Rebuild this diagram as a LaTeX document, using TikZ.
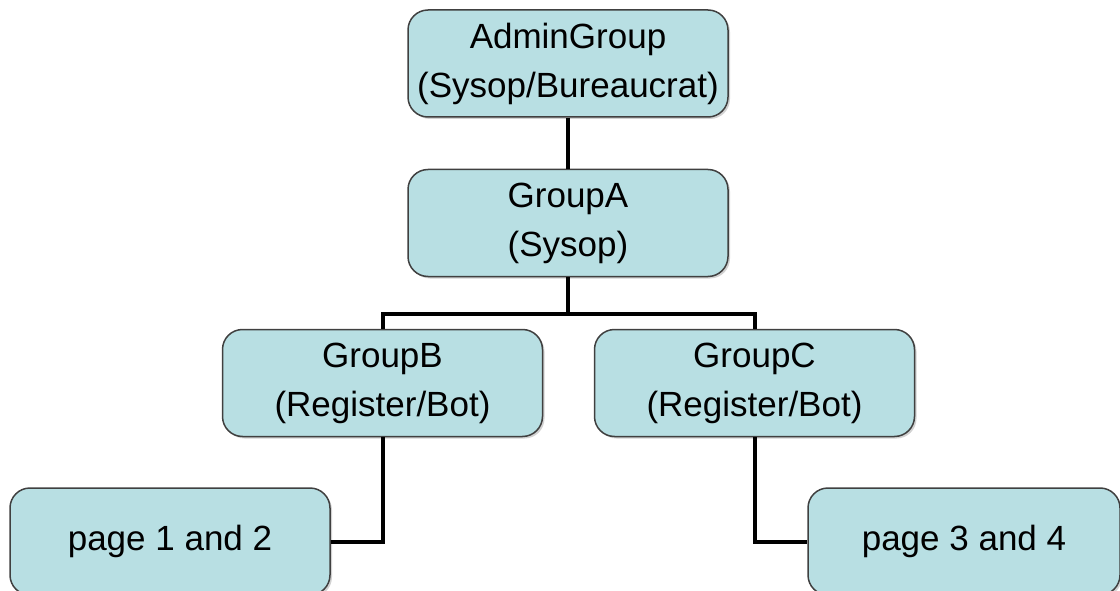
\documentclass[tikz,border=0pt]{standalone}
\usepackage{fontspec}
\setmainfont{Liberation Sans}
\usetikzlibrary{shadows}

\begin{document}
\begin{tikzpicture}[x=1pt,y=-1pt,line width=4pt]
\tikzstyle{grp}=[rectangle,rounded corners=20pt,draw=black!75,line width=1.5pt,fill={rgb,255:red,184;green,223;blue,227},minimum width=320pt,minimum height=107pt,align=center,font=\fontsize{35}{49}\selectfont,drop shadow={shadow xshift=2pt,shadow yshift=-2pt,fill=black!35}]
\useasboundingbox (0,0) rectangle (1120,591);
\node[grp](admin) at (568,63.5) {AdminGroup\\(Sysop/Bureaucrat)};
\node[grp](A) at (568,223) {GroupA\\(Sysop)};
\node[grp](B) at (382.5,383) {GroupB\\(Register/Bot)};
\node[grp](C) at (754.5,383) {GroupC\\(Register/Bot)};
\node[grp](P1) at (170,541.5) {page 1 and 2};
\node[grp,minimum width=312pt](P3) at (964,541.5) {page 3 and 4};

\draw (admin) -- (A);
\draw (A.south) |- (382.5,314) -- (B.north);
\draw (A.south) |- (754.5,314) -- (C.north);
\draw (B.south) |- (P1.east);
\draw (C.south) |- (P3.west);
\end{tikzpicture}
\end{document}
